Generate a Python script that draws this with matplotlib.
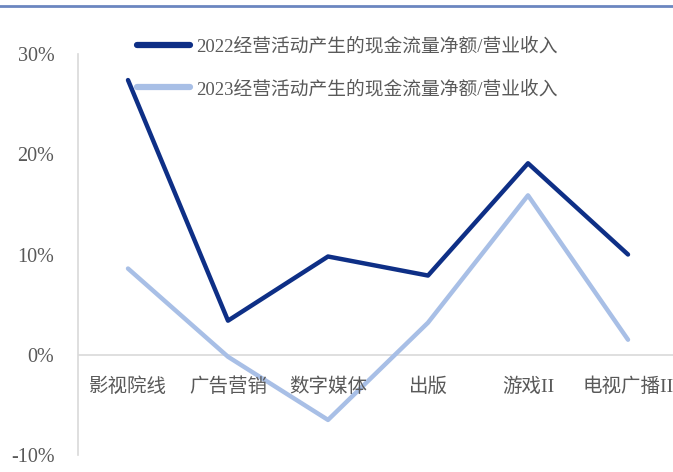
import matplotlib.pyplot as plt
import matplotlib.ticker as mtick
from matplotlib.lines import Line2D

plt.rcParams['font.family'] = ['Liberation Serif', 'Noto Sans CJK SC', 'DejaVu Sans']

categories = ['影视院线', '广告营销', '数字媒体', '出版', '游戏II', '电视广播II']
cf_2022 = [27.4, 3.4, 9.8, 7.9, 19.1, 10.0]
cf_2023 = [8.6, -0.2, -6.5, 3.2, 15.9, 1.5]
label_2022 = '2022经营活动产生的现金流量净额/营业收入'
label_2023 = '2023经营活动产生的现金流量净额/营业收入'

dark_blue = '#0e2f86'
light_blue = '#a8bfe6'
grey = '#595959'

fig = plt.figure(figsize=(6.73, 4.72), dpi=100)
ax = fig.add_axes([78 / 673, 17 / 472, 600 / 673, 401 / 472])

x = list(range(len(categories)))
ax.plot(x, cf_2022, color=dark_blue, lw=3.2, solid_capstyle='round', zorder=3)
ax.plot(x, cf_2023, color=light_blue, lw=3.2, solid_capstyle='round', zorder=2)

ax.set_xlim(-0.5, 5.5)
ax.set_ylim(-10, 30)
ax.yaxis.set_major_locator(mtick.MultipleLocator(10))
ax.yaxis.set_major_formatter(mtick.FuncFormatter(lambda v, p: f'{v:.0f}%'))
ax.tick_params(axis='y', length=0, pad=17, labelsize=14.5, labelcolor=grey)
ax.set_xticks([])

for s in ['top', 'right', 'bottom']:
    ax.spines[s].set_visible(False)
ax.spines['left'].set_color('#d9d9d9')
ax.spines['left'].set_linewidth(1.2)
ax.axhline(0, color='#d9d9d9', lw=1.2, zorder=1)

# category names sit just under the zero line
for i, c in enumerate(categories):
    ax.text(i, -3.2, c, ha='center', va='center', fontsize=14, color=grey)

handles = [Line2D([], [], color=dark_blue, lw=4.5, solid_capstyle='round'),
           Line2D([], [], color=light_blue, lw=4.5, solid_capstyle='round')]
fig.legend(handles, [label_2022, label_2023], loc='upper left',
           bbox_to_anchor=(137 / 673, 1 - 38 / 472), frameon=False,
           fontsize=13.5, labelcolor=grey, handlelength=2.8, handletextpad=0.35,
           labelspacing=1.3, borderpad=0, borderaxespad=0)

# blue rule along the top edge
fig.add_artist(Line2D([0, 1], [1 - 6 / 472, 1 - 6 / 472], color='#6b86c0', lw=2,
                      transform=fig.transFigure))

fig.savefig('out.png', dpi=100)
